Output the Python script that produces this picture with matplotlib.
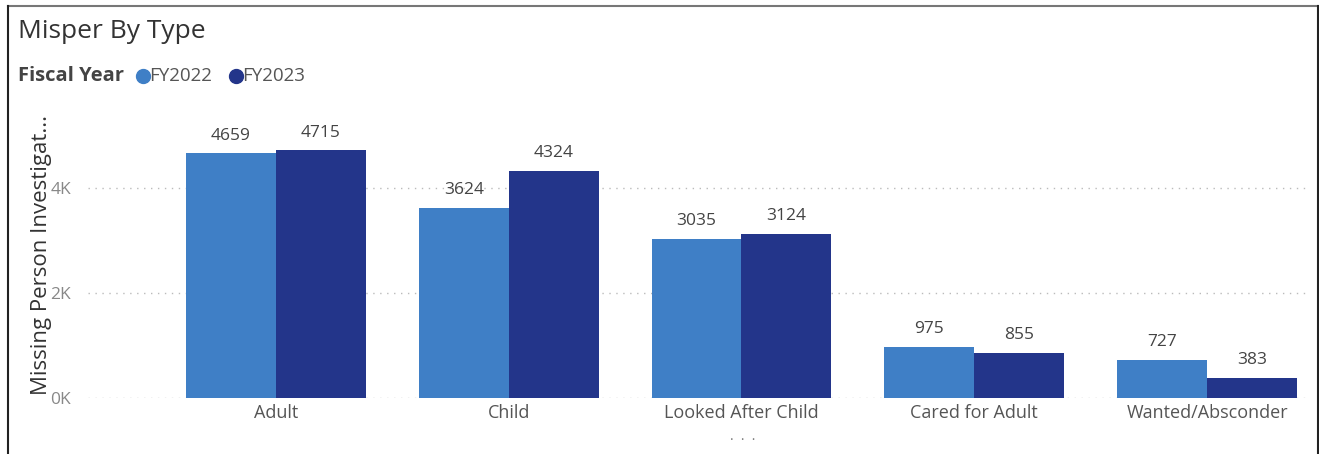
import matplotlib
matplotlib.use("Agg")
import matplotlib.pyplot as plt
import numpy as np
from matplotlib.lines import Line2D

categories = ["Adult", "Child", "Looked After Child", "Cared for Adult", "Wanted/Absconder"]
fy2022 = [4659, 3624, 3035, 975, 727]
fy2023 = [4715, 4324, 3124, 855, 383]
series_names = ["FY2022", "FY2023"]
yticks = [0, 2000, 4000]
ytick_labels = ["0K", "2K", "4K"]

c22 = "#3F7FC6"
c23 = "#23358A"
font = "Open Sans"
plt.rcParams["font.family"] = [font, "DejaVu Sans"]

W, H = 1319, 454
fig = plt.figure(figsize=(W / 100, H / 100), dpi=100)

ax = fig.add_axes([88 / W, (H - 398) / H, (1310 - 88) / W, (398 - 130) / H])
x = np.arange(len(categories))
bw = 0.386
b1 = ax.bar(x - bw / 2, fy2022, bw, color=c22, zorder=3)
b2 = ax.bar(x + bw / 2, fy2023, bw, color=c23, zorder=3)
for bars, vals in ((b1, fy2022), (b2, fy2023)):
    for r, v in zip(bars, vals):
        ax.annotate(f"{v}", (r.get_x() + r.get_width() / 2, v), xytext=(0, 7),
                    textcoords="offset points", ha="center", va="bottom",
                    fontsize=12.5, color="#444444")

ax.set_xlim(-0.807, 4.442)
ax.set_ylim(0, 5105)
ax.set_yticks(yticks)
ax.set_yticklabels(ytick_labels, color="#888888", fontsize=12.5)
ax.set_xticks(x)
ax.set_xticklabels(categories, color="#555555", fontsize=13)
ax.tick_params(axis="both", length=0)
ax.tick_params(axis="y", pad=12)
ax.tick_params(axis="x", pad=4)
for s in ax.spines.values():
    s.set_visible(False)
ax.yaxis.grid(True, linestyle=(0, (1, 4)), color="#BBBBBB", linewidth=1.0, zorder=0)
ax.set_ylabel("Missing Person Investigat...", fontsize=16, color="#333333")
ax.yaxis.set_label_coords(-36 / (1310 - 88), 0.534)

fig.text(18 / W, 1 - 32 / H, "Misper By Type", fontsize=19, color="#333333", va="center", ha="left")
fig.text(18 / W, 1 - 76 / H, "Fiscal Year", fontsize=14.5, fontweight="bold", color="#444444", va="center", ha="left")
xs = [143, 236]
for xp, name, col in zip(xs, series_names, (c22, c23)):
    fig.lines.append(Line2D([xp / W], [1 - 76 / H], marker="o", markersize=10, color=col,
                            transform=fig.transFigure))
    fig.text((xp + 6) / W, 1 - 76 / H, name, fontsize=13.5, color="#555555", va="center", ha="left")

fig.text(743 / W, 1 - 440 / H, "·  ·  ·", fontsize=10, color="#777777", ha="center", va="center")

# border
fig.lines.append(Line2D([8 / W, 1318 / W], [1 - 6 / H, 1 - 6 / H], color="#777777", lw=1.5, transform=fig.transFigure))
fig.lines.append(Line2D([8 / W, 8 / W], [0, 1 - 6 / H], color="#222222", lw=1.5, transform=fig.transFigure))
fig.lines.append(Line2D([1317.5 / W, 1317.5 / W], [0, 1 - 6 / H], color="#222222", lw=1.5, transform=fig.transFigure))

fig.savefig("out.png", dpi=100)
